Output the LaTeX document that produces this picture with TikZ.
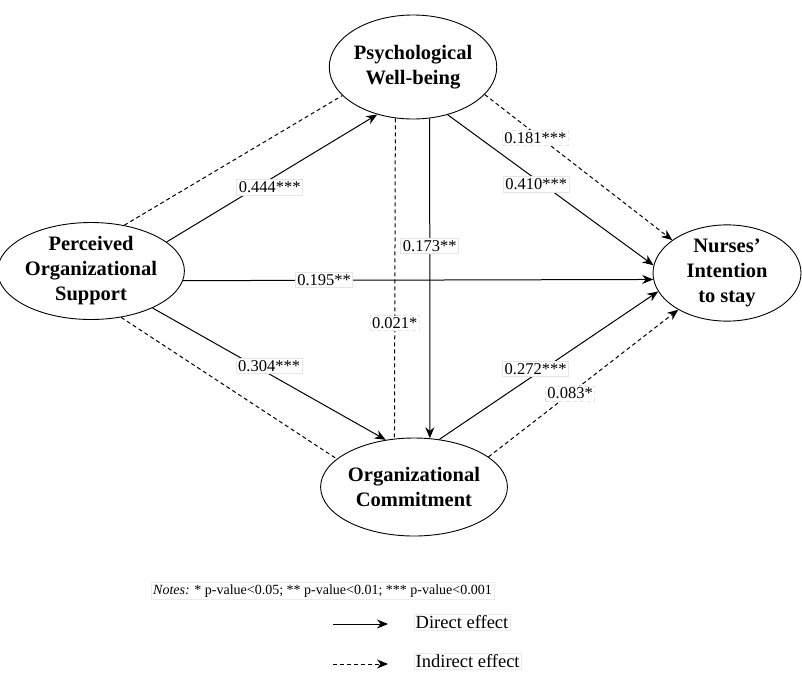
\documentclass[tikz,border=0pt]{standalone}
\usepackage{fontspec}
\setmainfont{Liberation Serif}
\usetikzlibrary{shapes.geometric}
\usetikzlibrary {arrows.meta}
\tikzset{>={Stealth[length=11pt,width=9pt]}}
\tikzset{
	construct/.style={draw, ellipse, line width=0.9pt, inner sep=0pt, align=center,
		font=\fontsize{20.5}{25}\selectfont\bfseries},
	direct/.style={->, line width=1pt},
	indirect/.style={line width=1pt, dash pattern=on 4pt off 3pt},
	coef/.style={fill=white, draw=black!10, inner sep=2pt, font=\fontsize{16.5}{18}\selectfont},
	legendtxt/.style={anchor=west, draw=black!8, inner sep=1.5pt, font=\fontsize{18.5}{20}\selectfont}
}

\begin{document}
\begin{tikzpicture}[x=1pt, y=-1pt]
\useasboundingbox (0,0) rectangle (802,672);

\node (pwb) at (413,67) [construct, minimum width=160pt, minimum height=104pt] {Psychological\\Well-being};
\node (pos) at (91,271) [construct, minimum width=162pt, minimum height=92pt] {Perceived\\Organizational\\Support};
\node (oc) at (414,487) [construct, minimum width=158pt, minimum height=98pt] {Organizational\\Commitment};
\node (nis) at (727,273) [construct, minimum width=148pt, minimum height=94pt] {Nurses’\\Intention\\to stay};

	% indirect paths
	\draw [indirect] (pos.54) -- (pwb.202);
	\draw [indirect] (pos.-57) -- (oc.160);
	\draw [indirect] (pwb.251) -- node [coef, pos=0.64] {0.021*} (oc.112);
	\draw [indirect, ->] (pwb.-21) -- node [coef, pos=0.27, yshift=-4pt] {0.181***} (nis.149);
	\draw [indirect, ->] (oc.22) -- node [coef, pos=0.43] {0.083*} (nis.217);

	% direct paths
	\draw [direct] (pos.21) -- node [coef, pos=0.49, yshift=-8pt] {0.444***} (pwb.233);
	\draw [direct] (pos.-31) -- node [coef, pos=0.5, yshift=8pt] {0.304***} (oc.121);
	\draw [direct] (pos.-6) -- node [coef, pos=0.3] {0.195**} (nis.185);
	\draw [direct] (pwb.-72) -- node [coef, pos=0.4] {0.173**} (oc.72);
	\draw [direct] (pwb.-54) -- node [coef, pos=0.43, yshift=-5pt] {0.410***} (nis.174);
	\draw [direct] (oc.62) -- node [coef, pos=0.44, yshift=5pt] {0.272***} (nis.195);

\node (notes) at (151,591) [anchor=west, draw=black!8, inner sep=2pt, font=\fontsize{14}{16}\selectfont]
	{\textit{Notes:} * p-value<0.05; ** p-value<0.01; *** p-value<0.001};

	% legend
	\coordinate (dirA) at (333,624);
	\coordinate (dirB) at (388,624);
	\coordinate (indA) at (333,664);
	\coordinate (indB) at (388,664);
	\draw [direct] (dirA) -- (dirB);
	\draw [indirect, ->] (indA) -- (indB);
\node (dirtxt) at (414,622) [legendtxt] {Direct effect};
\node (indtxt) at (414,661) [legendtxt] {Indirect effect};
\end{tikzpicture}
\end{document}
